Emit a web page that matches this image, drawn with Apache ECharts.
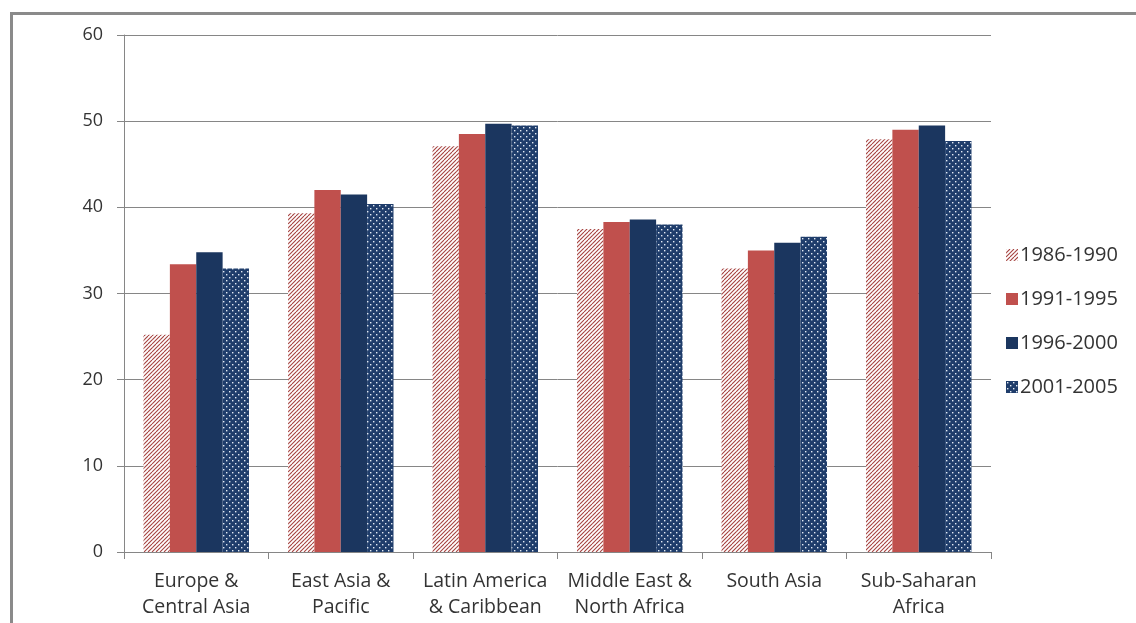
<!DOCTYPE html>
<html>
<head>
<meta charset="utf-8">
<script src="https://cdn.jsdelivr.net/npm/echarts@6/dist/echarts.min.js"></script>
<style>
html,body{margin:0;padding:0;background:#fff;width:1136px;height:623px;overflow:hidden;}
#frame{position:absolute;left:10px;top:12px;width:1300px;height:800px;border-top:3px solid #8a8a8a;border-left:3px solid #8a8a8a;}
#chart{position:absolute;left:0;top:0;width:1136px;height:623px;}
</style>
</head>
<body>
<div id="frame"></div>
<div id="chart"></div>
<script>
const categories = ['Europe &\nCentral Asia', 'East Asia &\nPacific', 'Latin America\n& Caribbean', 'Middle East &\nNorth Africa', 'South Asia', 'Sub-Saharan\nAfrica'];
const seriesNames = ['1986-1990', '1991-1995', '1996-2000', '2001-2005'];
const v1986 = [25.2, 39.3, 47.1, 37.5, 32.9, 47.9];
const v1991 = [33.4, 42.0, 48.5, 38.3, 35.0, 49.0];
const v1996 = [34.8, 41.5, 49.7, 38.6, 35.9, 49.5];
const v2001 = [32.9, 40.4, 49.5, 38.0, 36.6, 47.7];
const yTicks = [0, 10, 20, 30, 40, 50, 60];

function hatchPattern() {
  const c = document.createElement('canvas');
  c.width = 8; c.height = 8;
  const g = c.getContext('2d');
  g.fillStyle = '#ffffff';
  g.fillRect(0, 0, 8, 8);
  g.strokeStyle = '#a5423f';
  g.lineWidth = 1.1;
  for (let x = -8; x <= 8; x += 4) {
    g.beginPath();
    g.moveTo(x, 8);
    g.lineTo(x + 8, 0);
    g.stroke();
  }
  return c;
}
function dotPattern() {
  const c = document.createElement('canvas');
  c.width = 6; c.height = 6;
  const g = c.getContext('2d');
  g.fillStyle = '#1f3d6b';
  g.fillRect(0, 0, 6, 6);
  g.fillStyle = '#e4ebf4';
  g.fillRect(1, 1, 1.4, 1.4);
  g.fillRect(4, 4, 1.4, 1.4);
  return c;
}

const chart = echarts.init(document.getElementById('chart'), null, {renderer: 'canvas'});
const font = '"Open Sans", Lato, sans-serif';
const hatch = {image: hatchPattern(), repeat: 'repeat'};
const dots = {image: dotPattern(), repeat: 'repeat'};
const fills = [hatch, '#c0504d', '#1b365f', dots];
const datas = [v1986, v1991, v1996, v2001];

chart.setOption({
  animation: false,
  backgroundColor: 'transparent',
  textStyle: {fontFamily: font},
  grid: {left: 124, right: 145, top: 35, bottom: 71, containLabel: false},
  legend: {
    orient: 'vertical',
    left: 1001,
    top: 240,
    itemWidth: 12,
    itemHeight: 12,
    itemGap: 24,
    icon: 'rect',
    textStyle: {fontFamily: font, fontSize: 20, color: '#333333', padding: [0, 0, 0, -3]},
    data: seriesNames
  },
  xAxis: {
    type: 'category',
    data: categories,
    axisLine: {lineStyle: {color: '#868686', width: 1}},
    axisTick: {show: true, alignWithLabel: false, length: 7, lineStyle: {color: '#868686'}},
    axisLabel: {fontFamily: font, fontSize: 19.5, color: '#333333', margin: 16, lineHeight: 26, interval: 0}
  },
  yAxis: {
    type: 'value',
    min: 0,
    max: 60,
    interval: 10,
    axisLine: {show: true, lineStyle: {color: '#868686', width: 1}},
    axisTick: {show: true, length: 7, lineStyle: {color: '#868686'}},
    splitLine: {lineStyle: {color: '#868686', width: 1}},
    axisLabel: {fontFamily: font, fontSize: 18, color: '#333333', margin: 21,
      formatter: function (v) { return yTicks.indexOf(v) >= 0 ? String(v) : ''; }}
  },
  series: seriesNames.map(function (n, i) {
    return {
      name: n,
      type: 'bar',
      data: datas[i],
      barGap: '0%',
      barCategoryGap: '27%',
      itemStyle: {color: fills[i]}
    };
  })
});
</script>
</body>
</html>
